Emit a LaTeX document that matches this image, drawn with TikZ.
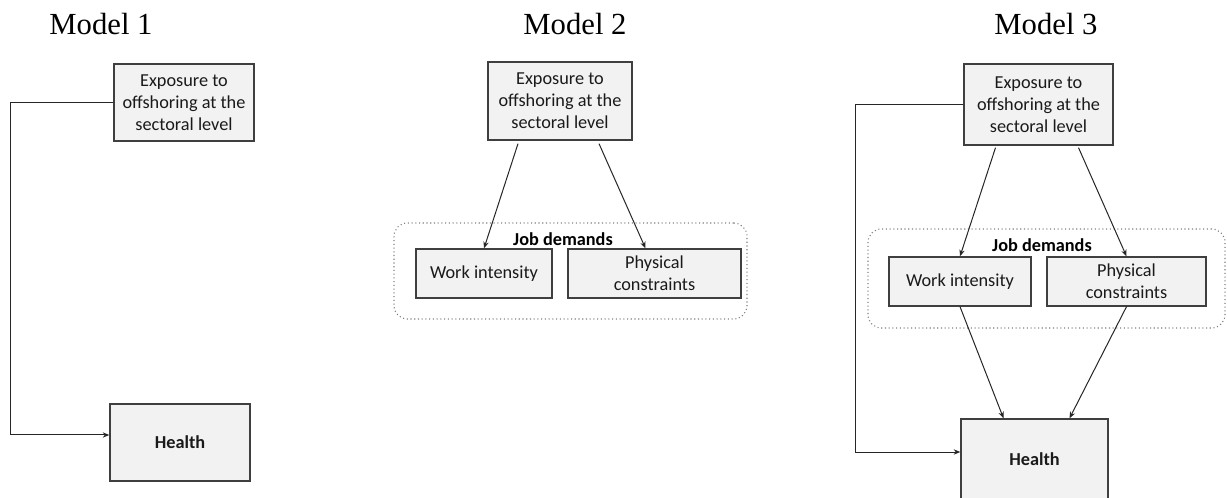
\documentclass[tikz,border=0pt]{standalone}
\usepackage{fontspec}
\setmainfont{Carlito}
\newfontfamily\titlefont{Liberation Serif}
\usetikzlibrary{calc,arrows.meta}
\definecolor{boxfill}{HTML}{F2F2F2}
\definecolor{boxline}{HTML}{3F3F3F}
\definecolor{grpline}{HTML}{7F7F7F}
\definecolor{txt}{HTML}{1A1A1A}
\tikzset{
  box/.style={draw=boxline, fill=boxfill, line width=1pt, inner sep=0pt, align=center,
              font=\fontsize{13.7}{16.5}\selectfont, text=txt},
  sz/.style 2 args={minimum width=#1*0.75pt, minimum height=#2*0.75pt},
  grp/.style={draw=grpline, dotted, rounded corners=10pt, line width=0.8pt, inner sep=0pt},
  arr/.style={draw=black!85, line width=0.75pt, -{Stealth[length=5pt,width=4pt]}},
  ttl/.style={font=\titlefont\fontsize{23}{27}\selectfont, text=black, anchor=base, inner sep=0pt},
  grplabel/.style={font=\bfseries\fontsize{13.7}{16.5}\selectfont, text=black, inner sep=0pt}
}
\begin{document}
\begin{tikzpicture}[x=0.75pt, y=-0.75pt]
\useasboundingbox (0,0) rectangle (1227,498);

% ---------- Model 1 ----------
\node[ttl] (t1) at (101,35) {Model 1};
\node[box, sz={140}{77}] (e1) at (184,102.5) {Exposure to\\offshoring at the\\sectoral level};
\node[box, sz={140}{77}] (h1) at (180,442.5) {\textbf{Health}};
\coordinate (c1) at (10,435);
\draw[arr] (e1.west) -| (c1) -- (c1 -| h1.west);

% ---------- Model 2 ----------
\node[ttl] (t2) at (575,35) {Model 2};
\node[grp, sz={353}{96}] (g2) at (570.5,271) {};
\node[grplabel] (j2) at (563,239) {Job demands};
\node[box, sz={144}{78}] (e2) at (560,101) {Exposure to\\offshoring at the\\sectoral level};
\node[box, sz={136}{49}] (w2) at (484,273.5) {Work intensity};
\node[box, sz={173}{49}] (p2) at (654.5,273.5) {Physical\\constraints};
\draw[arr] ($(e2.south)+(-42,3)$) -- (w2.north);
\draw[arr] ($(e2.south)+(39,3)$) -- ($(p2.north)+(-9,0)$);

% ---------- Model 3 ----------
\node[ttl] (t3) at (1046,35) {Model 3};
\node[grp, sz={357}{99}] (g3) at (1046.5,278.5) {};
\node[grplabel] (j3) at (1042,245) {Job demands};
\node[box, sz={149}{81}] (e3) at (1038.5,104.5) {Exposure to\\offshoring at the\\sectoral level};
\node[box, sz={142}{49}] (w3) at (960,281.5) {Work intensity};
\node[box, sz={159}{49}] (p3) at (1126.5,281.5) {Physical\\constraints};
\node[box, sz={147}{80}] (h3) at (1034.5,459) {\textbf{Health}};
\draw[arr] ($(e3.south)+(-43,2)$) -- (w3.north);
\draw[arr] ($(e3.south)+(40,2)$) -- (p3.north);
\draw[arr] (w3.south) -- ($(h3.north)+(-31,0)$);
\draw[arr] (p3.south) -- ($(h3.north)+(35,0)$);
\coordinate (c3) at (855,452);
\draw[arr] (e3.west) -| (c3) -- (c3 -| h3.west);
\end{tikzpicture}
\end{document}
